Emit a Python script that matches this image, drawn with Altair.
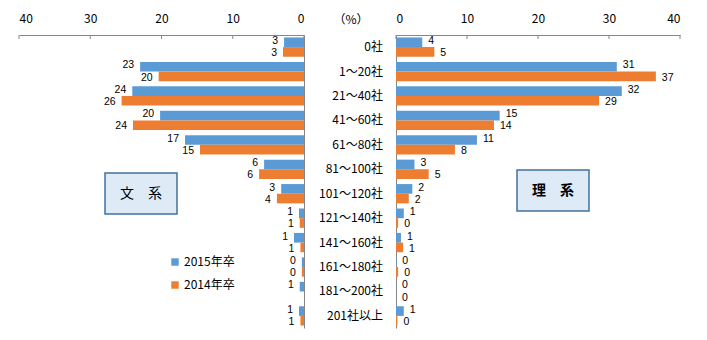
import altair as alt
import pandas as pd

categories = ["0社", "1～20社", "21～40社", "41～60社", "61～80社", "81～100社",
              "101～120社", "121～140社", "141～160社", "161～180社", "181～200社", "201社以上"]
series_names = ["2015年卒", "2014年卒"]
colors = ["#5B9BD5", "#ED7D31"]

bunkei_2015 = [2.8, 23.0, 24.1, 20.2, 16.7, 5.6, 3.2, 0.7, 1.4, 0.3, 0.6, 0.7]
bunkei_2014 = [2.95, 20.4, 25.6, 24.0, 14.6, 6.3, 3.8, 0.6, 0.5, 0.3, 0.0, 0.5]
bunkei_2015_labels = ["3", "23", "24", "20", "17", "6", "3", "1", "1", "0", "1", "1"]
bunkei_2014_labels = ["3", "20", "26", "24", "15", "6", "4", "1", "1", "0", "", "1"]

rikei_2015 = [3.7, 31.1, 31.8, 14.6, 11.4, 2.6, 2.3, 1.1, 0.7, 0.05, 0.0, 1.1]
rikei_2014 = [5.4, 36.6, 28.6, 13.8, 8.3, 4.6, 1.8, 0.3, 1.0, 0.3, 0.0, 0.2]
rikei_2015_labels = ["4", "31", "32", "15", "11", "3", "2", "1", "1", "0", "0", "1"]
rikei_2014_labels = ["5", "37", "29", "14", "8", "5", "2", "0", "1", "0", "0", "0"]

tick_values = [0, 10, 20, 30, 40]
box_texts = ["文　系", "理　系"]
unit_text = ["（%）"]

FONT = "Noto Sans CJK JP"
NUM_FONT = "Liberation Sans"
AXIS_GRAY = "#868686"


def make_df(v15, v14, l15, l14):
    rows = []
    for i, c in enumerate(categories):
        rows.append({"cat": c, "series": series_names[0], "value": v15[i], "label": l15[i]})
        rows.append({"cat": c, "series": series_names[1], "value": v14[i], "label": l14[i]})
    return pd.DataFrame(rows)


left_df = make_df(bunkei_2015, bunkei_2014, bunkei_2015_labels, bunkei_2014_labels)
right_df = make_df(rikei_2015, rikei_2014, rikei_2015_labels, rikei_2014_labels)
ticks_df = pd.DataFrame({"v": tick_values})

H = 293
W_L = 285
W_M = 92
W_R = 284

y_scale = alt.Scale(paddingInner=0.21, paddingOuter=0.1)
yoff = alt.YOffset("series:N", sort=series_names, scale=alt.Scale(paddingInner=0, paddingOuter=0))
color_scale = alt.Scale(domain=series_names, range=colors)


def x_axis():
    return alt.Axis(orient="top", values=tick_values, grid=False, domainColor=AXIS_GRAY,
                    ticks=False, labelFontSize=12, labelColor="#000000",
                    labelPadding=10, labelFont=FONT, title=None)


def value_labels(base, series, align, dx, dy):
    return base.transform_filter(alt.datum.series == series).mark_text(
        align=align, baseline="middle", dx=dx, dy=dy, fontSize=10.5, font=NUM_FONT, color="#000000"
    ).encode(x=alt.X("value:Q"), text="label:N")


def tick_marks():
    return alt.Chart(ticks_df).mark_rule(color=AXIS_GRAY, strokeWidth=1).encode(
        x=alt.X("v:Q", title=None), y=alt.value(0), y2=alt.value(4)
    )


# ---------------- left panel (文系) ----------------
y_left = alt.Y("cat:N", sort=categories, scale=y_scale,
               axis=alt.Axis(orient="right", labels=False, ticks=False, domainColor=AXIS_GRAY,
                             grid=False, title=None))
base_l = alt.Chart(left_df).encode(y=y_left, yOffset=yoff)
bars_l = base_l.mark_bar().encode(
    x=alt.X("value:Q", scale=alt.Scale(domain=[0, 40], reverse=True, nice=False), axis=x_axis()),
    color=alt.Color("series:N", scale=color_scale, sort=series_names,
                    legend=alt.Legend(orient="none", legendX=150, legendY=221, title=None,
                                      symbolType="square", symbolSize=55, symbolStrokeWidth=0,
                                      labelFontSize=12, labelFont=FONT, labelColor="#000000",
                                      rowPadding=11, labelOffset=3)),
)
text_l1 = value_labels(base_l, series_names[0], "right", -6, -1.25)
text_l2 = value_labels(base_l, series_names[1], "right", -6, 1.25)
box_l = alt.Chart(pd.DataFrame({"t": [box_texts[0]]})).mark_rect(
    fill="#DEEAF6", stroke="#41719C", strokeWidth=1.5
).encode(x=alt.value(86), x2=alt.value(158), y=alt.value(138), y2=alt.value(179))
boxt_l = alt.Chart(pd.DataFrame({"t": [box_texts[0]]})).mark_text(
    fontSize=14, font=FONT, color="#000000", align="center", baseline="middle"
).encode(x=alt.value(122), y=alt.value(158.5), text="t:N")

left = alt.layer(bars_l, tick_marks(), text_l1, text_l2, box_l, boxt_l).properties(width=W_L, height=H)

# ---------------- middle (category labels) ----------------
mid_df = pd.DataFrame({"cat": categories})
cat_text = alt.Chart(mid_df).mark_text(align="right", baseline="middle", fontSize=12, font=FONT,
                                       color="#000000").encode(
    y=alt.Y("cat:N", sort=categories, scale=y_scale, axis=None),
    x=alt.value(79),
    text="cat:N",
)
unit = alt.Chart(pd.DataFrame({"t": unit_text})).mark_text(
    align="center", baseline="middle", fontSize=12, font=FONT, color="#000000"
).encode(x=alt.value(47), y=alt.value(-15), text="t:N")
middle = alt.layer(cat_text, unit).properties(width=W_M, height=H)

# ---------------- right panel (理系) ----------------
y_right = alt.Y("cat:N", sort=categories, scale=y_scale,
                axis=alt.Axis(orient="left", labels=False, ticks=False, domainColor=AXIS_GRAY,
                              grid=False, title=None))
base_r = alt.Chart(right_df).encode(y=y_right, yOffset=yoff)
bars_r = base_r.mark_bar().encode(
    x=alt.X("value:Q", scale=alt.Scale(domain=[0, 40], nice=False), axis=x_axis()),
    color=alt.Color("series:N", scale=color_scale, sort=series_names, legend=None),
)
text_r1 = value_labels(base_r, series_names[0], "left", 6, -1.25)
text_r2 = value_labels(base_r, series_names[1], "left", 6, 1.25)
box_r = alt.Chart(pd.DataFrame({"t": [box_texts[1]]})).mark_rect(
    fill="#DEEAF6", stroke="#41719C", strokeWidth=1.5
).encode(x=alt.value(121), x2=alt.value(193), y=alt.value(135), y2=alt.value(176))
boxt_r = alt.Chart(pd.DataFrame({"t": [box_texts[1]]})).mark_text(
    fontSize=14, font=FONT, fontWeight="bold", color="#000000", align="center", baseline="middle"
).encode(x=alt.value(157), y=alt.value(155.5), text="t:N")
right = alt.layer(bars_r, tick_marks(), text_r1, text_r2, box_r, boxt_r).properties(width=W_R, height=H)

chart = alt.hconcat(left, middle, right, spacing=0, bounds="flush").resolve_scale(
    color="shared"
).properties(
    padding={"left": 18, "top": 12, "right": 5, "bottom": 5},
    background="#FFFFFF",
).configure_view(stroke=None)

chart.save("out.html", embed_options={"renderer": "svg", "actions": False})
